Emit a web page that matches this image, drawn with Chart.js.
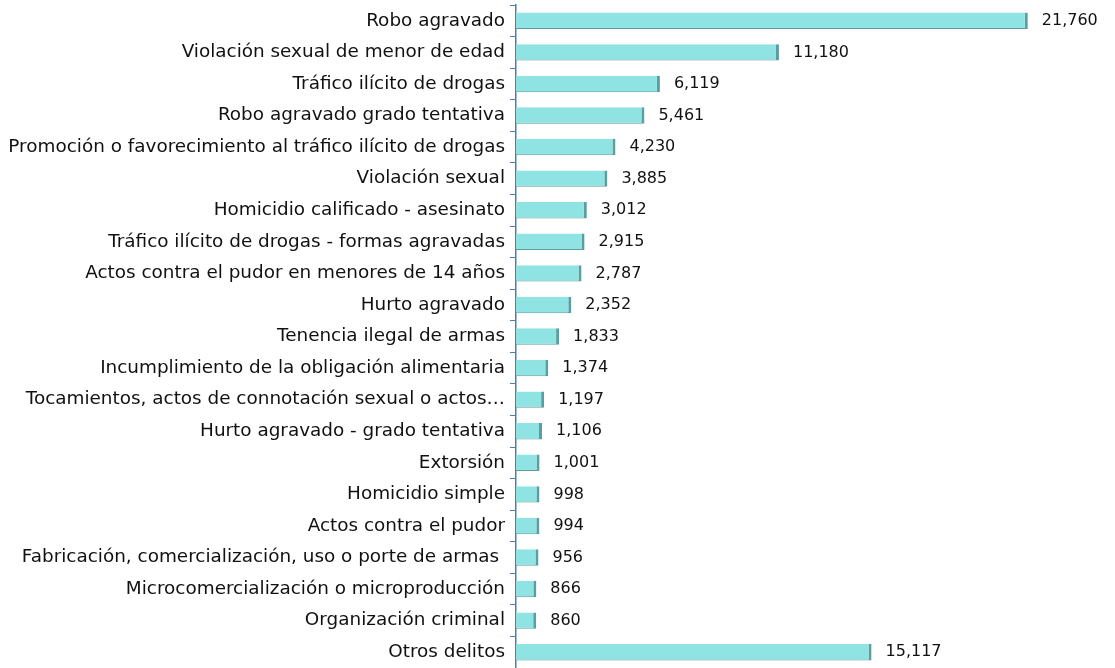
<!DOCTYPE html>
<html><head><meta charset="utf-8">
<script src="https://cdn.jsdelivr.net/npm/chart.js@4/dist/chart.umd.min.js"></script>
<style>html,body{margin:0;padding:0;background:#fff}#wrap{width:1115px;height:668px;position:relative}</style>
</head><body><div id="wrap"><canvas id="c"></canvas></div>
<script>
const categories = [
  "Robo agravado",
  "Violación sexual de menor de edad",
  "Tráfico ilícito de drogas",
  "Robo agravado grado tentativa",
  "Promoción o favorecimiento al tráfico ilícito de drogas",
  "Violación sexual",
  "Homicidio calificado - asesinato",
  "Tráfico ilícito de drogas - formas agravadas",
  "Actos contra el pudor en menores de 14 años",
  "Hurto agravado",
  "Tenencia ilegal de armas",
  "Incumplimiento de la obligación alimentaria",
  "Tocamientos, actos de connotación sexual o actos…",
  "Hurto agravado - grado tentativa",
  "Extorsión",
  "Homicidio simple",
  "Actos contra el pudor",
  "Fabricación, comercialización, uso o porte de armas ",
  "Microcomercialización o microproducción",
  "Organización criminal",
  "Otros delitos"
];
const values = [21760, 11180, 6119, 5461, 4230, 3885, 3012, 2915, 2787, 2352, 1833, 1374, 1197, 1106, 1001, 998, 994, 956, 866, 860, 15117];

const FONT = "'DejaVu Sans', sans-serif";

const valueLabels = {
  id: 'valueLabels',
  afterDatasetsDraw(chart) {
    const ctx = chart.ctx;
    const meta = chart.getDatasetMeta(0);
    ctx.save();
    ctx.font = "16px " + FONT;
    ctx.fillStyle = "#111";
    ctx.textBaseline = "middle";
    ctx.textAlign = "left";
    meta.data.forEach((bar, i) => {
      ctx.fillText(values[i].toLocaleString('en-US'), bar.x + 14, bar.y);
    });
    ctx.restore();
  }
};

new Chart(document.getElementById('c'), {
  type: 'bar',
  data: {
    labels: categories,
    datasets: [{
      data: values,
      backgroundColor: '#90E3E3',
      borderColor: '#5E9C9E',
      borderWidth: {right: 3, bottom: 1, top: 0, left: 0},
      borderSkipped: 'left',
      barPercentage: 0.52,
      categoryPercentage: 1.0
    }]
  },
  options: {
    indexAxis: 'y',
    responsive: true,
    maintainAspectRatio: false,
    animation: false,
    layout: {padding: {left: 0, right: 11, top: 5, bottom: 0}},
    plugins: {legend: {display: false}, tooltip: {enabled: false}},
    scales: {
      x: {
        display: false,
        min: 0,
        max: 25000
      },
      y: {
        afterFit(scale) { scale.width = 516; scale.paddingTop = 0; scale.paddingBottom = 0; },
        grid: {
          display: true,
          drawOnChartArea: false,
          drawTicks: true,
          tickLength: 6,
          color: '#4A80A8',
          offset: true
        },
        border: {display: true, color: '#4A80A8', width: 1.5},
        ticks: {
          color: '#111',
          font: {family: FONT, size: 18.4},
          padding: 5,
          autoSkip: false
        }
      }
    }
  },
  plugins: [valueLabels]
});
</script></body></html>
